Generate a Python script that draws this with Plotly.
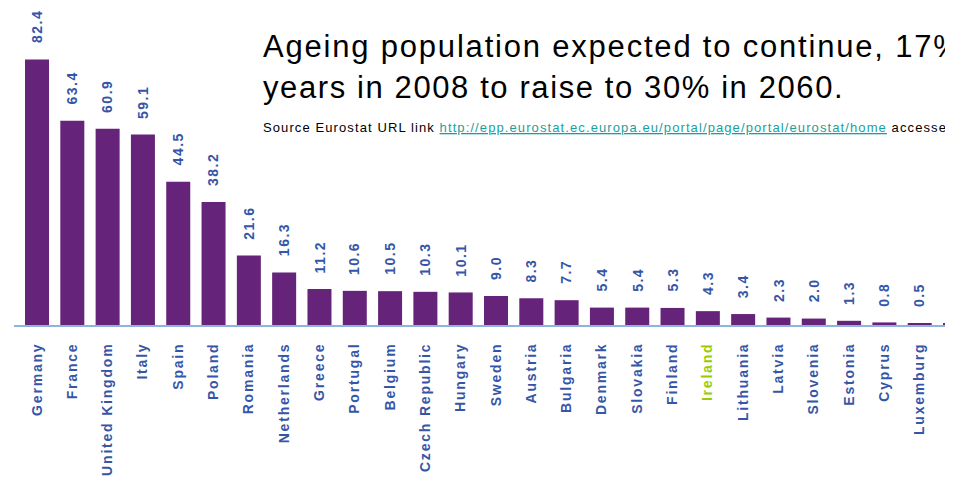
import plotly.graph_objects as go

countries = ["Germany", "France", "United Kingdom", "Italy", "Spain", "Poland", "Romania",
             "Netherlands", "Greece", "Portugal", "Belgium", "Czech Republic", "Hungary",
             "Sweden", "Austria", "Bulgaria", "Denmark", "Slovakia", "Finland", "Ireland",
             "Lithuania", "Latvia", "Slovenia", "Estonia", "Cyprus", "Luxemburg", "Malta"]
population = [82.4, 63.4, 60.9, 59.1, 44.5, 38.2, 21.6, 16.3, 11.2, 10.6, 10.5, 10.3, 10.1,
              9.0, 8.3, 7.7, 5.4, 5.4, 5.3, 4.3, 3.4, 2.3, 2.0, 1.3, 0.8, 0.5, 0.4]
value_labels = ["82.4", "63.4", "60.9", "59.1", "44.5", "38.2", "21.6", "16.3", "11.2", "10.6",
                "10.5", "10.3", "10.1", "9.0", "8.3", "7.7", "5.4", "5.4", "5.3", "4.3", "3.4",
                "2.3", "2.0", "1.3", "0.8", "0.5", ""]
highlight = "Ireland"

title_line1 = "Ageing population expected to continue, 17% of population over 65"
title_line2 = "years in 2008 to raise to 30% in 2060."
source_text = "Source Eurostat URL link "
source_url = "http://epp.eurostat.ec.europa.eu/portal/page/portal/eurostat/home"
source_tail = " accessed"

BAR = "#66237a"
BLUE = "#3556a8"
GREEN = "#99cc00"


def spaced(text, px, color=None):
    style = f"letter-spacing:{px}px"
    if color:
        style += f";color:{color}"
    return f"<span style='{style}'>{text}</span>"


xs = list(range(len(countries)))
ticktext = [spaced(f"<b>{c}</b>", 1.8, GREEN if c == highlight else None) for c in countries]

fig = go.Figure()
fig.add_trace(go.Bar(x=xs, y=population, marker=dict(color=BAR, line=dict(width=0)),
                     width=0.68, hoverinfo="x+y"))

for x, v, t in zip(xs, population, value_labels):
    if not t:
        continue
    fig.add_annotation(x=x, y=v, xref="x", yref="y", text=spaced(f"<b>{t}</b>", 1.5),
                       showarrow=False, textangle=-90, yanchor="bottom", xanchor="center",
                       yshift=14,
                       font=dict(family="Liberation Sans", size=14, color=BLUE, weight="bold"))

PLOT_H = 317.0
fig.add_annotation(xref="paper", yref="paper", x=0.2608, y=1 - 58 / PLOT_H, xanchor="left",
                   yanchor="bottom", text=spaced(title_line1, 1.8), showarrow=False, align="left",
                   font=dict(family="Liberation Sans", size=31, color="black"))
fig.add_annotation(xref="paper", yref="paper", x=0.2608, y=1 - 99 / PLOT_H, xanchor="left",
                   yanchor="bottom", text=spaced(title_line2, 1.6), showarrow=False, align="left",
                   font=dict(family="Liberation Sans", size=31, color="black"))
fig.add_annotation(xref="paper", yref="paper", x=0.2608, y=1 - 119 / PLOT_H, xanchor="left",
                   yanchor="middle", showarrow=False, align="left",
                   text=spaced(source_text, 1.1)
                   + spaced(f"<u>{source_url}</u>", 1.1, "#1a9fa0")
                   + spaced(source_tail, 1.1),
                   font=dict(family="Liberation Sans", size=13, color="black"))

fig.update_layout(
    width=953, height=478,
    margin=dict(l=6, r=0, t=0, b=161),
    paper_bgcolor="white", plot_bgcolor="white",
    showlegend=False,
    xaxis=dict(range=[-0.6516, 26.17], tickmode="array", tickvals=xs, ticktext=ticktext,
               tickangle=-90, ticks="outside", ticklen=10, tickcolor="rgba(0,0,0,0)",
               tickfont=dict(family="Liberation Sans", size=14, color=BLUE, weight="bold"),
               showline=True, linecolor="#8fb3dd", linewidth=2, showgrid=False,
               zeroline=False, fixedrange=True, automargin=False),
    yaxis=dict(range=[0, 98.4], visible=False, showgrid=False, zeroline=False),
)

fig.write_html("out.html")
